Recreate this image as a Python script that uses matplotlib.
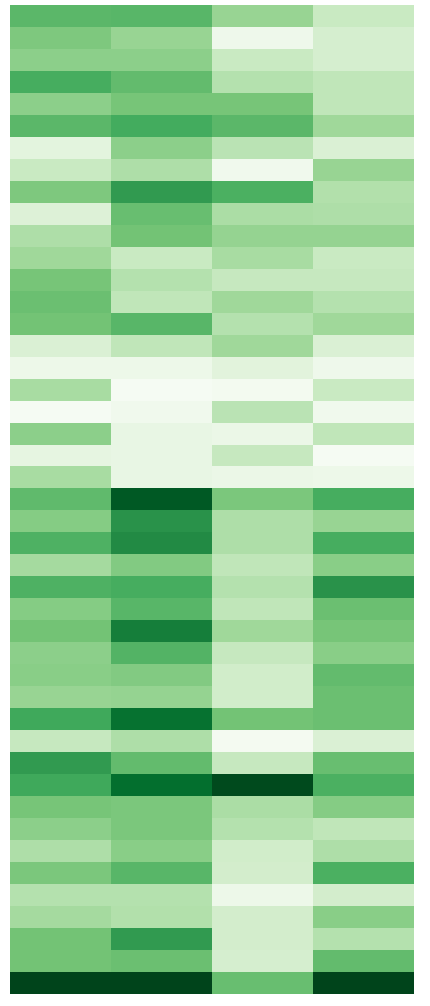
import matplotlib
matplotlib.use("Agg")
import matplotlib.pyplot as plt
import numpy as np

# values per column, read top to bottom (0..1 on the Greens scale)
col_1 = [0.56, 0.47, 0.43, 0.61, 0.43, 0.56, 0.13, 0.24, 0.47, 0.16,
         0.33, 0.375, 0.49, 0.52, 0.50, 0.17, 0.07, 0.35, 0.015, 0.43,
         0.12, 0.35, 0.55, 0.45, 0.59, 0.36, 0.59, 0.45, 0.50, 0.43,
         0.44, 0.40, 0.63, 0.25, 0.69, 0.63, 0.49, 0.43, 0.33, 0.48,
         0.31, 0.36, 0.50, 0.50, 1.0]
col_2 = [0.57, 0.40, 0.43, 0.54, 0.49, 0.62, 0.43, 0.33, 0.69, 0.53,
         0.50, 0.24, 0.31, 0.27, 0.57, 0.27, 0.07, 0.015, 0.05, 0.10,
         0.10, 0.10, 0.93, 0.72, 0.75, 0.46, 0.61, 0.57, 0.80, 0.58,
         0.46, 0.41, 0.85, 0.33, 0.54, 0.86, 0.48, 0.48, 0.44, 0.57,
         0.31, 0.32, 0.69, 0.52, 1.0]
col_3 = [0.40, 0.06, 0.24, 0.31, 0.49, 0.56, 0.29, 0.05, 0.60, 0.34,
         0.41, 0.35, 0.25, 0.375, 0.31, 0.375, 0.14, 0.03, 0.29, 0.08,
         0.25, 0.08, 0.48, 0.33, 0.33, 0.27, 0.31, 0.27, 0.375, 0.25,
         0.21, 0.21, 0.50, 0.02, 0.25, 0.98, 0.34, 0.31, 0.21, 0.20,
         0.07, 0.20, 0.20, 0.19, 0.53]
col_4 = [0.24, 0.19, 0.19, 0.27, 0.27, 0.375, 0.17, 0.40, 0.32, 0.33,
         0.41, 0.24, 0.25, 0.31, 0.375, 0.17, 0.06, 0.24, 0.05, 0.27,
         0.015, 0.07, 0.61, 0.40, 0.61, 0.44, 0.72, 0.52, 0.49, 0.44,
         0.54, 0.52, 0.52, 0.17, 0.53, 0.60, 0.45, 0.27, 0.33, 0.60,
         0.20, 0.44, 0.31, 0.54, 1.0]

data = np.column_stack([col_1, col_2, col_3, col_4])

fig = plt.figure(figsize=(4.30, 10.06), dpi=100)
ax = fig.add_axes([10 / 430, 12 / 1006, 404 / 430, 989 / 1006])
ax.imshow(data, cmap="Greens", vmin=0, vmax=1, aspect="auto",
          interpolation="nearest")
ax.axis("off")

fig.savefig("out.png", dpi=100)
